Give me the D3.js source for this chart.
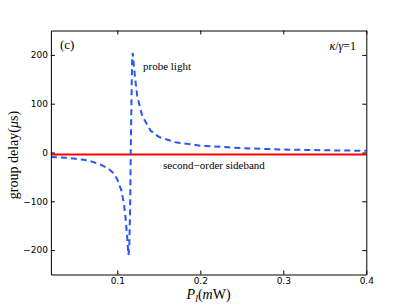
<!DOCTYPE html>
<html>
<head>
<meta charset="utf-8">
<script src="https://cdn.jsdelivr.net/npm/d3@7"></script>
<style>
  body { margin: 0; background: #fff; }
  svg { display: block; }
</style>
</head>
<body>
<script>
// data: P_l (mW) and group delay (us)
const probeP = [0.02, 0.03, 0.04, 0.05, 0.06, 0.07, 0.08, 0.09, 0.095, 0.10, 0.105, 0.108, 0.110, 0.112, 0.113, 0.1135,
                0.1145, 0.1155, 0.1162, 0.1170, 0.1178, 0.1185, 0.121, 0.124, 0.13, 0.14, 0.15, 0.17, 0.2, 0.25, 0.3, 0.35, 0.4];
const probeDelay = [-9, -10, -11, -13, -15, -19, -25, -34, -42, -55, -78, -105, -135, -175, -200, -210,
                    -190, -110, 0, 100, 185, 204, 160, 115, 75, 45, 32, 21, 14, 9, 6, 4.5, 3.5];
const sidebandP = [0.02, 0.4];
const sidebandDelay = [-4, -4];
const xTicks = [0.1, 0.2, 0.3, 0.4];
const yTicks = [-200, -100, 0, 100, 200];

const W = 407, H = 305;
const margin = {top: 30.5, right: 40.7, bottom: 30.5, left: 50.9};

const svg = d3.select("body").append("svg")
  .attr("width", W)
  .attr("height", H);

const x = d3.scaleLinear().domain([0.02, 0.4]).range([margin.left, W - margin.right]);
const y = d3.scaleLinear().domain([-250, 250]).range([H - margin.bottom, margin.top]);

const fmtY = d => (d < 0 ? "\u2212" + Math.abs(d) : String(d));

// curves
const line = d3.line().x(d => x(d[0])).y(d => y(d[1]));

svg.append("path")
  .datum(sidebandP.map((p, i) => [p, sidebandDelay[i]]))
  .attr("d", line)
  .attr("fill", "none")
  .attr("stroke", "#ff0000")
  .attr("stroke-width", 2);

svg.append("path")
  .datum(probeP.map((p, i) => [p, probeDelay[i]]))
  .attr("d", line)
  .attr("fill", "none")
  .attr("stroke", "#2457f5")
  .attr("stroke-width", 2)
  .attr("stroke-dasharray", "6,4");

// axes, ticks pointing inward on all four sides
const tickLen = 4;
const gB = svg.append("g").attr("transform", `translate(0,${H - margin.bottom})`)
  .call(d3.axisBottom(x).tickValues(xTicks).tickSizeInner(-tickLen).tickSizeOuter(0).tickPadding(3).tickFormat(d3.format(".1f")));
const gT = svg.append("g").attr("transform", `translate(0,${margin.top})`)
  .call(d3.axisTop(x).tickValues(xTicks).tickSizeInner(-tickLen).tickSizeOuter(0).tickFormat(""));
const gL = svg.append("g").attr("transform", `translate(${margin.left},0)`)
  .call(d3.axisLeft(y).tickValues(yTicks).tickSizeInner(-tickLen).tickSizeOuter(0).tickPadding(3).tickFormat(fmtY));
const gR = svg.append("g").attr("transform", `translate(${W - margin.right},0)`)
  .call(d3.axisRight(y).tickValues(yTicks).tickSizeInner(-tickLen).tickSizeOuter(0).tickFormat(""));

[gB, gT, gL, gR].forEach(g => {
  g.select(".domain").attr("stroke", "#000").attr("stroke-width", 1);
  g.selectAll(".tick line").attr("stroke", "#000");
  g.selectAll(".tick text")
    .attr("fill", "#000")
    .style("font-family", "'DejaVu Sans', sans-serif")
    .style("font-size", "9px");
});

// labels
const serif = "'Liberation Serif', 'DejaVu Serif', serif";

svg.append("text")
  .attr("x", (margin.left + W - margin.right) / 2)
  .attr("y", 299)
  .attr("text-anchor", "middle")
  .style("font-family", serif)
  .style("font-size", "14px")
  .html('<tspan font-style="italic">P</tspan><tspan font-style="italic" font-size="10px" dy="3">l</tspan><tspan dy="-3">(</tspan><tspan font-style="italic">m</tspan>W)');

svg.append("text")
  .attr("transform", "translate(18,155) rotate(-90)")
  .attr("text-anchor", "middle")
  .style("font-family", serif)
  .style("font-size", "14px")
  .html('group delay(<tspan font-style="italic">\u03bc</tspan>s)');

svg.append("text")
  .attr("x", 60).attr("y", 49)
  .style("font-family", serif)
  .style("font-size", "13px")
  .text("(c)");

svg.append("text")
  .attr("x", 143).attr("y", 70)
  .style("font-family", serif)
  .style("font-size", "11px")
  .text("probe light");

svg.append("text")
  .attr("x", 356).attr("y", 50)
  .attr("text-anchor", "end")
  .style("font-family", serif)
  .style("font-size", "12px")
  .html('<tspan font-style="italic">\u03ba</tspan>/<tspan font-style="italic">\u03b3</tspan>=1');

svg.append("text")
  .attr("x", 163).attr("y", 169)
  .style("font-family", serif)
  .style("font-size", "11px")
  .text("second\u2212order sideband");
</script>
</body>
</html>
